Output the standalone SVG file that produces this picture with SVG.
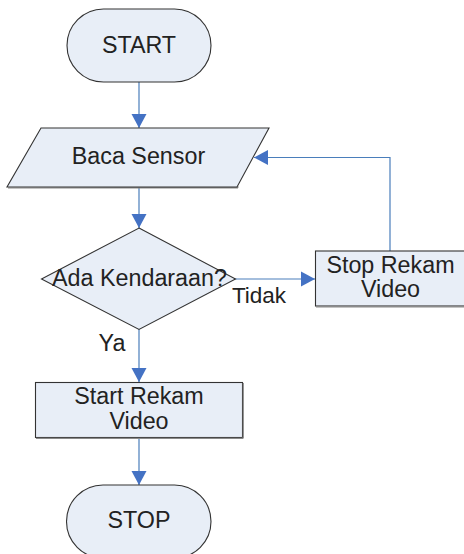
<svg xmlns="http://www.w3.org/2000/svg" width="464" height="554" viewBox="0 0 464 554">
<defs>
<style>
.shape{fill:#E8EEF7;stroke:#333;stroke-width:1.1}
.shadow{fill:none;stroke:#8a8a8a;stroke-width:1.2}
.t{font-family:"Liberation Sans",Arial,sans-serif;font-size:23.3px;fill:#222;text-anchor:middle}
.c{fill:none;stroke:#4A7EBB;stroke-width:1.2}
</style>
<marker id="ah" markerUnits="userSpaceOnUse" markerWidth="16" markerHeight="16" viewBox="0 0 14 16" refX="14" refY="8" orient="auto">
<path d="M0,0.5 L14,8 L0,15.5 Z" fill="#4472C4"/>
</marker>
</defs>
<rect width="464" height="554" fill="#fff"/>
<g id="connectors">
<line class="c" x1="139" y1="82" x2="139" y2="128" marker-end="url(#ah)"/>
<line class="c" x1="139" y1="187" x2="139" y2="228" marker-end="url(#ah)"/>
<line class="c" x1="235" y1="279" x2="315" y2="279" marker-end="url(#ah)"/>
<polyline class="c" points="390,251 390,157.5 254,157.5" marker-end="url(#ah)"/>
<line class="c" x1="139" y1="329" x2="139" y2="382" marker-end="url(#ah)"/>
<line class="c" x1="139" y1="437" x2="139" y2="485" marker-end="url(#ah)"/>
<text class="t" x="259" y="303" style="font-size:22.5px">Tidak</text>
<text class="t" x="112" y="351">Ya</text>
</g>
<g id="start">
<rect class="shape" x="67" y="9" width="144" height="73" rx="36.5"/>
<text class="t" x="139" y="53">START</text>
</g>
<g id="baca-sensor">
<polygon class="shadow" points="8,188 237.5,188 238,187"/>
<polygon class="shape" points="41,128 269,128 237,187 7,187"/>
<text class="t" x="138.5" y="164">Baca Sensor</text>
</g>
<g id="ada-kendaraan">
<polygon class="shape" points="139,228 235.5,279 139,329.5 41.5,279"/>
<text class="t" x="139.5" y="286">Ada Kendaraan?</text>
</g>
<g id="stop-rekam">
<rect class="shape" x="315.5" y="251" width="152" height="55"/>
<line class="shadow" x1="316" y1="306.8" x2="464" y2="306.8"/>
<text class="t" x="390.5" y="272.5">Stop Rekam</text>
<text class="t" x="390.5" y="296.5">Video</text>
</g>
<g id="start-rekam">
<rect class="shape" x="35.5" y="382.5" width="207" height="55"/>
<line class="shadow" x1="36" y1="438.3" x2="243.3" y2="438.3"/>
<line class="shadow" x1="243.3" y1="383" x2="243.3" y2="438.3"/>
<text class="t" x="139" y="404">Start Rekam</text>
<text class="t" x="139" y="428.5">Video</text>
</g>
<g id="stop">
<rect class="shape" x="66.5" y="485" width="144.5" height="73" rx="36.5"/>
<text class="t" x="139" y="528">STOP</text>
</g>
</svg>
